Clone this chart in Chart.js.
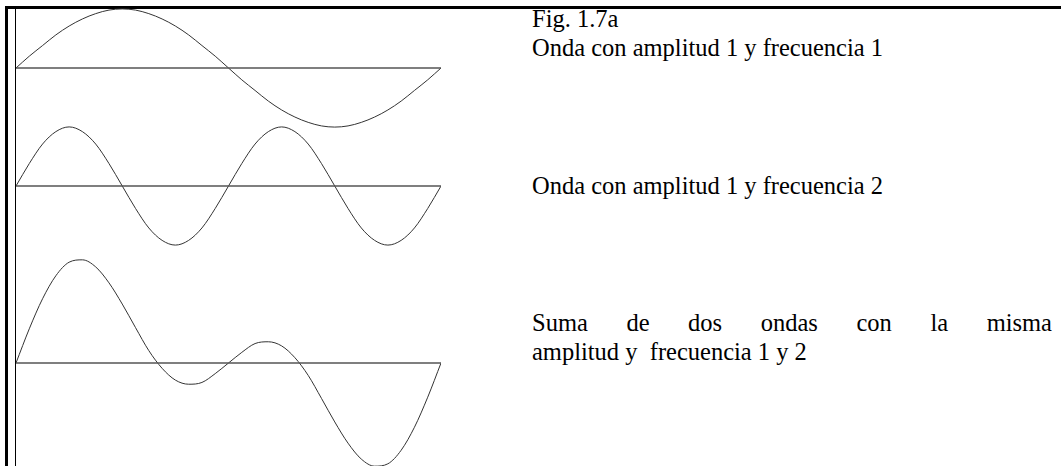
<!DOCTYPE html>
<html>
<head>
<meta charset="utf-8">
<script src="https://cdn.jsdelivr.net/npm/chart.js@4.4.0/dist/chart.umd.min.js"></script>
<style>
  html, body { margin: 0; padding: 0; background: #fff; }
  body { width: 1061px; height: 466px; overflow: hidden; position: relative; font-family: "Liberation Serif", "Times New Roman", serif; }
  canvas { position: absolute; }
  .rule { position: absolute; background: #000; }
  .txt { position: absolute; font-size: 24.5px; line-height: 29px; color: #000; white-space: nowrap; }
  .just { white-space: normal; text-align: justify; text-align-last: justify; width: 520px; }
</style>
</head>
<body>
<div class="rule" style="left:5px; top:6px; width:1056px; height:3px;"></div>
<div class="rule" style="left:5px; top:6px; width:3px; height:460px;"></div>
<div class="rule" style="left:15px; top:8px; width:1px; height:458px;"></div>

<canvas id="wave1" width="425" height="130" style="left:16px; top:3px;"></canvas>
<canvas id="wave2" width="425" height="130" style="left:16px; top:121px;"></canvas>
<canvas id="wave3" width="425" height="224" style="left:16px; top:251px;"></canvas>

<div class="txt" style="left:532px; top:4px;">Fig. 1.7a</div>
<div class="txt" style="left:532px; top:33px;">Onda con amplitud 1 y frecuencia 1</div>
<div class="txt" style="left:532px; top:171px;">Onda con amplitud 1 y frecuencia 2</div>
<div class="txt just" style="left:532px; top:308px;">Suma de dos ondas con la misma</div>
<div class="txt" style="left:532px; top:337px;">amplitud y&nbsp; frecuencia 1 y 2</div>

<script>
// phase along the horizontal axis, in degrees
var phaseDeg = [0, 11.25, 22.5, 33.75, 45, 56.25, 67.5, 78.75, 90, 101.25, 112.5, 123.75, 135, 146.25, 157.5, 168.75,
  180, 191.25, 202.5, 213.75, 225, 236.25, 247.5, 258.75, 270, 281.25, 292.5, 303.75, 315, 326.25, 337.5, 348.75, 360];

// amplitude 1, frequency 1
var waveOne = [0, 0.2, 0.38, 0.56, 0.71, 0.83, 0.92, 0.98, 1, 0.98, 0.92, 0.83, 0.71, 0.56, 0.38, 0.2,
  0, -0.2, -0.38, -0.56, -0.71, -0.83, -0.92, -0.98, -1, -0.98, -0.92, -0.83, -0.71, -0.56, -0.38, -0.2, 0];

// amplitude 1, frequency 2
var waveTwo = [0, 0.38, 0.71, 0.92, 1, 0.92, 0.71, 0.38, 0, -0.38, -0.71, -0.92, -1, -0.92, -0.71, -0.38,
  0, 0.38, 0.71, 0.92, 1, 0.92, 0.71, 0.38, 0, -0.38, -0.71, -0.92, -1, -0.92, -0.71, -0.38, 0];

// sum of both
var waveSum = [0, 0.58, 1.09, 1.48, 1.71, 1.75, 1.63, 1.36, 1, 0.6, 0.21, -0.09, -0.29, -0.36, -0.33, -0.18,
  0, 0.18, 0.33, 0.36, 0.29, 0.09, -0.21, -0.6, -1, -1.36, -1.63, -1.75, -1.71, -1.48, -1.09, -0.58, 0];

var baseline = [0, 0];
var baselineDeg = [0, 360];

function drawWave(canvasId, values, yMin, yMax) {
  var canvas = document.getElementById(canvasId);

  var data = {
    datasets: [
      {
        data: baselineDeg.map(function (d, i) { return { x: d, y: baseline[i] }; }),
        borderColor: '#555',
        borderWidth: 1.5,
        pointRadius: 0,
      },
      {
        data: phaseDeg.map(function (d, i) { return { x: d, y: values[i] }; }),
        borderColor: '#333',
        borderWidth: 1,
        pointRadius: 0,
        cubicInterpolationMode: 'monotone',
      },
    ],
  };

  var options = {
    responsive: false,
    animation: false,
    layout: { padding: 0 },
    plugins: {
      legend: { display: false },
      tooltip: { enabled: false },
    },
    scales: {
      x: { type: 'linear', min: 0, max: 360, display: false },
      y: { min: yMin, max: yMax, display: false },
    },
  };

  new Chart(canvas, { type: 'line', data: data, options: options });
}

drawWave('wave1', waveOne, -1.1, 1.1);
drawWave('wave2', waveTwo, -1.1, 1.1);
drawWave('wave3', waveSum, -1.9, 1.9);
</script>
</body>
</html>
